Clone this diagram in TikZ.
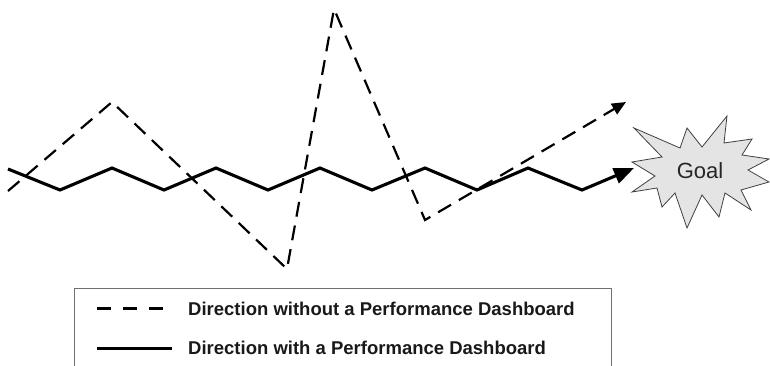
\documentclass[tikz,border=0pt]{standalone}
\usepackage{fontspec}
\setmainfont{Liberation Sans}
\usetikzlibrary{arrows.meta}
\definecolor{burstfill}{HTML}{E4E4E4}
\definecolor{burstline}{HTML}{404040}
\definecolor{boxline}{HTML}{707070}
\tikzset{
  solidpath/.style={line width=3.1pt, black, line join=miter},
  dashpath/.style={line width=2.2pt, black, dash pattern=on 15pt off 9pt},
  solidtip/.style={-{Triangle[length=20pt,width=16pt]}},
  dashtip/.style={-{Triangle[length=14pt,width=12pt]}},
  legtext/.style={anchor=base west, inner sep=0pt, font=\fontsize{18.5}{20}\selectfont\bfseries, text=black!90},
  burst/.style={fill=burstfill, draw=burstline, line width=0.8pt, line join=miter},
  legbox/.style={draw=boxline, line width=1pt}
}
\begin{document}
\begin{tikzpicture}[x=1pt,y=-1pt]
\useasboundingbox (0,0) rectangle (770,365);
% solid path vertices
\coordinate (s0) at (8,169);
\coordinate (s1) at (60,190);
\coordinate (s2) at (112,168);
\coordinate (s3) at (164,190);
\coordinate (s4) at (216,168);
\coordinate (s5) at (268,190);
\coordinate (s6) at (320,168);
\coordinate (s7) at (372,190);
\coordinate (s8) at (425,168);
\coordinate (s9) at (477,190);
\coordinate (s10) at (528,168);
\coordinate (s11) at (582,190);
\coordinate (s12) at (634,168);
% dashed path vertices
\coordinate (d0) at (8,191);
\coordinate (d1) at (112,102);
\coordinate (d2) at (287,269);
\coordinate (d3) at (334,9);
\coordinate (d4) at (425,220);
\coordinate (d5) at (626,102);
% goal starburst
\draw[burst] (634,128) -- (680,148) -- (687,128) -- (702,147) -- (727,116) -- (724,143)
  -- (752,139) -- (742,155) -- (769,159) -- (748,170) -- (769,182) -- (741,190)
  -- (751,210) -- (725,193) -- (719,217) -- (702,195) -- (687,228) -- (675,193)
  -- (662,207) -- (657,188) -- (632,192) -- (655,176) -- (632,162) -- (662,157) -- cycle;
\node[anchor=base, inner sep=0pt, font=\fontsize{22}{24}\selectfont, text=black!85] (goal) at (700,178) {Goal};
% dashed path
\draw[dashpath, dashtip] (d0) -- (d1) -- (d2) -- (d3) -- (d4) -- (d5);
% solid path
\draw[solidpath, solidtip] (s0) -- (s1) -- (s2) -- (s3) -- (s4) -- (s5) -- (s6) -- (s7) -- (s8) -- (s9) -- (s10) -- (s11) -- (s12);
% legend box
\coordinate (b0) at (74,366);
\coordinate (b1) at (74,288);
\coordinate (b2) at (611,288);
\coordinate (b3) at (611,366);
\draw[legbox] (b0) -- (b1) -- (b2) -- (b3);
\coordinate (l1a) at (97,308);
\coordinate (l1b) at (163,308);
\coordinate (l2a) at (97,348);
\coordinate (l2b) at (172,348);
\draw[line width=3pt, dash pattern=on 14pt off 12pt] (l1a) -- (l1b);
\draw[line width=3pt] (l2a) -- (l2b);
\node[legtext] (t1) at (188,315) {Direction without a Performance Dashboard};
\node[legtext] (t2) at (188,354) {Direction with a Performance Dashboard};
\end{tikzpicture}
\end{document}
